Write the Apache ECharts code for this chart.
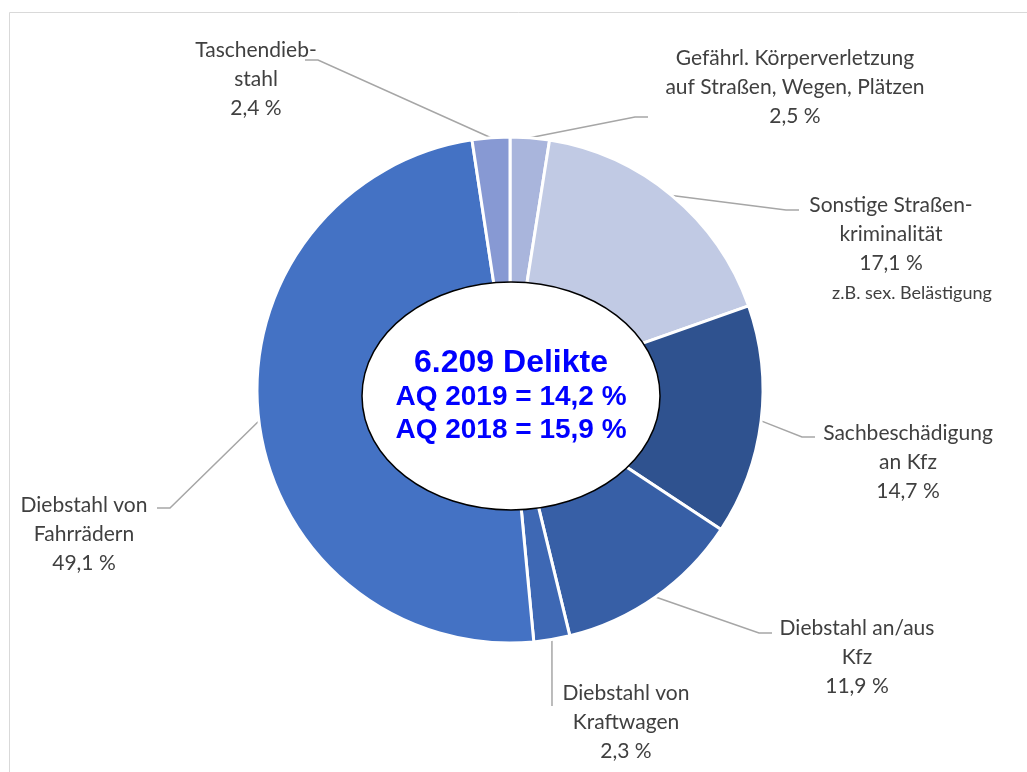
<!DOCTYPE html>
<html>
<head>
<meta charset="utf-8">
<script src="https://cdn.jsdelivr.net/npm/echarts@6/dist/echarts.min.js"></script>
<style>
  html, body { margin: 0; padding: 0; background: #fff; }
  #chart { width: 1027px; height: 772px; }
</style>
</head>
<body>
<div id="chart"></div>
<script>
// ---- data ----
const categories = [
  'Gefährl. Körperverletzung\nauf Straßen, Wegen, Plätzen',
  'Sonstige Straßen-\nkriminalität',
  'Sachbeschädigung\nan Kfz',
  'Diebstahl an/aus\nKfz',
  'Diebstahl von\nKraftwagen',
  'Diebstahl von\nFahrrädern',
  'Taschendieb-\nstahl'
];
const shares = [2.5, 17.1, 14.7, 11.9, 2.3, 49.1, 2.4];
const noteText = 'z.B. sex. Belästigung';
const centerTitle = '6.209 Delikte';
const centerLines = ['AQ 2019 = 14,2 %', 'AQ 2018 = 15,9 %'];

// ---- styles ----
const colors = ['#a9b5dc', '#c1cae4', '#2f528f', '#375fa6', '#3e68b4', '#4472c4', '#8799d3'];
const labelFont = 'Lato, "Open Sans", sans-serif';
// label block: center x, top y; line end point
const labelPos = [
  { x: 795, y: 44, end: [648, 117], dir: -1 },
  { x: 891, y: 191, end: [799, 210], dir: -1 },
  { x: 908, y: 419, end: [815, 437], dir: -1 },
  { x: 857, y: 614, end: [772, 633], dir: -1 },
  { x: 626, y: 679, end: [552, 706], dir: 0 },
  { x: 84, y: 491, end: [157, 508], dir: 1 },
  { x: 256, y: 36, end: [305, 60], dir: 1 }
];

const chart = echarts.init(document.getElementById('chart'), null, { renderer: 'canvas' });

const pieData = categories.map((c, i) => ({
  name: c, value: shares[i], itemStyle: { color: colors[i] }
}));

chart.setOption({
  animation: false,
  backgroundColor: '#ffffff',
  graphic: [
    { type: 'line', shape: { x1: 9.5, y1: 12.5, x2: 1027, y2: 12.5 }, style: { stroke: '#d9d9d9', lineWidth: 1 }, z: 0 },
    { type: 'line', shape: { x1: 9.5, y1: 12.5, x2: 9.5, y2: 772 }, style: { stroke: '#d9d9d9', lineWidth: 1 }, z: 0 },
    { type: 'ellipse', shape: { cx: 511, cy: 396, rx: 149, ry: 114 },
      style: { fill: '#ffffff', stroke: '#000000', lineWidth: 1.5 }, z: 100 },
    { type: 'text', x: 511, y: 363, z: 101,
      style: { text: centerTitle, fill: '#0000ff', font: 'bold 32px "Liberation Sans", Arial, sans-serif',
               textAlign: 'center', textVerticalAlign: 'middle' } },
    { type: 'text', x: 511, y: 397, z: 101,
      style: { text: centerLines[0], fill: '#0000ff', font: 'bold 28px "Liberation Sans", Arial, sans-serif',
               textAlign: 'center', textVerticalAlign: 'middle' } },
    { type: 'text', x: 511, y: 430, z: 101,
      style: { text: centerLines[1], fill: '#0000ff', font: 'bold 28px "Liberation Sans", Arial, sans-serif',
               textAlign: 'center', textVerticalAlign: 'middle' } },
    { type: 'text', x: 912, y: 293, z: 101,
      style: { text: noteText, fill: '#404040', font: '18px ' + labelFont,
               textAlign: 'center', textVerticalAlign: 'middle' } }
  ],
  series: [{
    type: 'pie',
    center: [510, 390],
    radius: [90, 253],
    startAngle: 90,
    clockwise: true,
    avoidLabelOverlap: false,
    itemStyle: { borderColor: '#ffffff', borderWidth: 3 },
    label: {
      show: true,
      color: '#404040',
      fontFamily: labelFont,
      fontSize: 21,
      lineHeight: 29,
      align: 'center',
      formatter: p => p.name + '\n' + p.value.toFixed(1).replace('.', ',') + ' %'
    },
    labelLine: { show: true, lineStyle: { color: '#a6a6a6', width: 1.5 }, length: 20, length2: 15 },
    labelLayout: function (params) {
      const lp = labelPos[params.dataIndex];
      const start = params.labelLinePoints ? params.labelLinePoints[0] : [lp.end[0], lp.end[1]];
      let bend;
      if (lp.dir === 0) {
        bend = [(start[0] + lp.end[0]) / 2, (start[1] + lp.end[1]) / 2];
      } else {
        bend = [lp.end[0] + lp.dir * 13, lp.end[1]];
      }
      return {
        x: lp.x, y: lp.y, align: 'center', verticalAlign: 'top',
        labelLinePoints: [start, bend, lp.end]
      };
    },
    data: pieData
  }]
});
</script>
</body>
</html>
